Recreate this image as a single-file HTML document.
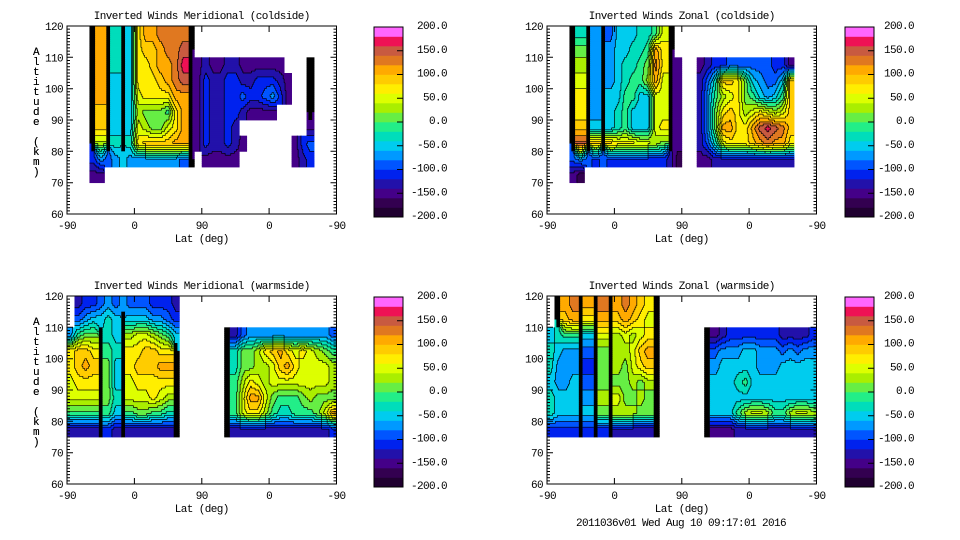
<!DOCTYPE html>
<html><head><meta charset="utf-8"><style>
html,body{margin:0;padding:0;background:#fff;}
svg{display:block;}
text{font-family:"Liberation Mono",monospace;font-size:11px;letter-spacing:-0.6px;fill:#000;}
</style></head><body>
<svg id="fig" width="960" height="540" viewBox="0 0 960 540" xmlns="http://www.w3.org/2000/svg">
<rect x="0" y="0" width="960" height="540" fill="#fff"/>
<text x="681" y="526" text-anchor="middle">2011036v01 Wed Aug 10 09:17:01 2016</text>
</svg>
<script>
// Colour levels, -200..200 in steps of 20
const levelColors = ["#200030","#330050","#440088","#2211aa","#0022ee","#0055ff","#0099ff","#00ccee","#00ddbb","#22ee88","#66ee44","#aaee00","#ddff00","#ffee00","#ffcc00","#ffaa00","#e07820","#c85a40","#ee1155","#ff44bb"];
const barTopColor = "#ff66ff";
const barLabels = ["200.0","150.0","100.0","50.0","0.0","-50.0","-100.0","-150.0","-200.0"];
const xTickLabels = ["-90","0","90","0","-90"];
const yTickLabels = [120,110,100,90,80,70,60];
// Grid rows: 5 km bands from 120 km down; 36 columns of 10 deg along axis.
// letter a..t = level index (value = -190 + 20*k), '#' = dense contour (black), '.' = no data
const merCold = [
"...#p#i#hnppqqqq#",
"...#p#i#hnoopqqr#",
"...#p#i#hnnoppqs#cdccddcccccc...#",
"...#p#h#hnnnopqr#ceddeeddeeedc..#",
"...#p#h#hmnnnnpp#ceddeefeefgec..#",
"...#o#h#hlkkkjnp#ceddeedcccc....#",
"...#o#h#hmlkkmnp#cedded.........c",
"...#l#i#inoooopp#ceddedc......cef",
"...egfghgggggggf#.ccccc.......cde",
"...cc"];
const zonCold = [
"...#i#g#fhhhiijm#",
"...#k#g#ghhiijpn#",
"...#l#g#ghiijkqn#c..cdeeffffffeec",
"...#m#g#ghijjlpm#c..dfioonkhgffho",
"...#n#g#hhjjhhmm#c..dgjlmnkjhghjo",
"...#n#g#hijhhhmm#c..dgknonlmnmlmo",
"...#o#h#hijhhhmn#c..dgkppnnprsrqo",
"...#r#o#onnnmmlk#c..dfimnnnopqppn",
"...fgfefeeeeeeeedb..ccddddddddddd",
"...cb"];
const merWarm = [
".deefgfgfffeeed",
".fghhih#hhhggfe",
"gjkk#ih#lmmlkjh......#dfgggggggggggf",
"noon#ji#nnoonn#......#ikklnopnmnmlkj",
"nopo#kh#nooopp#......#ikkllmopnmmmml",
"mnnn#kh#mnnnnn#......#jlnmlmmmmmmmml",
"mmmm#ki#mmmnml#......#jmppmkjjjklkkk",
"jjjj#jh#jkkjji#......#jmnnljiijjjkmp",
"dddd#ed#dddddd#......#ddddddddddddde"];
const zonWarm = [
".#pq#p#q#pqpon#",
".#op#n#p#oponm#",
"hijj#h#m#lmlmn#......#cdeeeeeeedddde",
"ihgg#f#k#llmop#......#fggghhgggfgfgg",
"iggg#e#k#lkmno#......#ghhhhhggghhhhh",
"hggh#f#k#kklkl#......#hhhijhhhhhhhhh",
"ihhh#g#l#mkklk#......#hhhhhhhhhhhhhh",
"ihhh#h#k#lllkk#......#hhhjlmmljjlmml",
"eeee#e#e#ddddd#......#cccddddddddddd"];

const NS="http://www.w3.org/2000/svg";
const svg=document.getElementById('fig');
function mk(tag,attrs,parent){const e=document.createElementNS(NS,tag);for(const k in attrs)e.setAttribute(k,attrs[k]);(parent||svg).appendChild(e);return e;}

const panels=[
 {name:"meridional-coldside",title:"Inverted Winds Meridional (coldside)",data:merCold,x:67,y:26,bx:374,by:27,lx:447},
 {name:"zonal-coldside",title:"Inverted Winds Zonal (coldside)",data:zonCold,x:547,y:26,bx:845,by:27,lx:914},
 {name:"meridional-warmside",title:"Inverted Winds Meridional (warmside)",data:merWarm,x:67,y:296,bx:374,by:297,lx:447},
 {name:"zonal-warmside",title:"Inverted Winds Zonal (warmside)",data:zonWarm,x:547,y:296,bx:845,by:297,lx:914}
];
const PW=269.5, PH=188, NC=36, NR=12, S=8;

function levelOf(v){return Math.max(0,Math.min(19,Math.floor((v+200)/20)));}

panels.forEach(p=>{
  const g=mk('g',{});
  
  
  const xPos=u=>p.x+u/360*PW;
  const yPos=a=>p.y+(120-a)/60*PH;
  const cell=(i,j)=>{const r=p.data[j]||"";const c=r[i]||'.';return c;};
  const val=c=>-190+20*(c.charCodeAt(0)-97);
  const isNum=c=>c!=='.'&&c!=='#';
  const W=NC*S,H=NR*S;
  const lv=[];
  for(let sj=0;sj<H;sj++){lv.push([]);for(let si=0;si<W;si++){
    const gx=(si+0.5)/S, gy=(sj+0.5)/S;
    const ci=Math.floor(gx), cj=Math.floor(gy);
    const c=cell(ci,cj);
    let L=-1;
    const m=si%S;
    if(c==='.'){L=-1;}
    else if(c==='#'&&m>=2&&m<=5){L=-2;}
    else{
      const i0=Math.floor(gx-0.5), j0=Math.floor(gy-0.5);
      const fx=gx-0.5-i0, fy=gy-0.5-j0;
      let sw=0,sv=0;
      [[0,0,(1-fx)*(1-fy)],[1,0,fx*(1-fy)],[0,1,(1-fx)*fy],[1,1,fx*fy]].forEach(([dx,dy,w])=>{
        const cc=cell(i0+dx,j0+dy); if(isNum(cc)&&w>0){sw+=w;sv+=w*val(cc);}
      });
      if(sw>0)L=levelOf(sv/sw); else L=(c==='#')?-2:-1;
    }
    lv[sj].push(L);
  }}
  const sw=360/W, sh=60/H;
  for(let sj=0;sj<H;sj++){
    let si=0;
    while(si<W){
      const L=lv[sj][si];let e=si;while(e+1<W&&lv[sj][e+1]===L)e++;
      if(L!==-1){
        const x0=xPos(si*sw), x1=xPos((e+1)*sw), y0=yPos(120-sj*sh), y1=yPos(120-(sj+1)*sh);
        const r=mk('rect',{x:x0.toFixed(2),y:y0.toFixed(2),width:(x1-x0+0.4).toFixed(2),height:(y1-y0+0.4).toFixed(2),fill:L===-2?"#000":levelColors[L]},g);
        
        
      }
      si=e+1;
    }
  }
  let d="";
  for(let sj=0;sj<H;sj++)for(let si=0;si<W;si++){
    const L=lv[sj][si]; if(L<0)continue;
    if(si+1<W){const R=lv[sj][si+1]; if(R>=0&&R!==L){const x=xPos((si+1)*sw);d+=`M${x.toFixed(2)} ${yPos(120-sj*sh).toFixed(2)}V${yPos(120-(sj+1)*sh).toFixed(2)}`;}}
    if(sj+1<H){const B=lv[sj+1][si]; if(B>=0&&B!==L){const y=yPos(120-(sj+1)*sh);d+=`M${xPos(si*sw).toFixed(2)} ${y.toFixed(2)}H${xPos((si+1)*sw).toFixed(2)}`;}}
  }
  const cl=mk('path',{d:d,stroke:"#000","stroke-width":"0.7",fill:"none"},g);
  
  
  const fr=mk('rect',{x:p.x,y:p.y,width:PW,height:PH,fill:"none",stroke:"#000","stroke-width":"1"},g);
  
  
  let td="";
  for(let a=60;a<=120;a+=1){const y=yPos(a);const len=(a%10===0)?6:3;td+=`M${p.x} ${y.toFixed(1)}h${len}M${p.x+PW} ${y.toFixed(1)}h${-len}`;}
  xTickLabels.forEach((t,k)=>{const x=xPos(k*90);td+=`M${x.toFixed(1)} ${p.y+PH}v-6M${x.toFixed(1)} ${p.y}v6`;});
  const tk=mk('path',{d:td,stroke:"#000","stroke-width":"1",fill:"none"},g);
  
  
  yTickLabels.forEach(a=>{
    const t=mk('text',{x:p.x-4,y:(yPos(a)+4).toFixed(1),'text-anchor':'end'},g);t.textContent=String(a);
    
    
  });
  xTickLabels.forEach((lab,k)=>{
    const t=mk('text',{x:xPos(k*90).toFixed(1),y:p.y+PH+15,'text-anchor':'middle'},g);t.textContent=lab;
    
    
  });
  const xt=mk('text',{x:xPos(180),y:p.y+PH+28,'text-anchor':'middle'},g);xt.textContent="Lat (deg)";
  
  
  const tt=mk('text',{x:xPos(180),y:p.y-7,'text-anchor':'middle'},g);tt.textContent=p.title;
  
  
  const yt=mk('text',{x:36,y:p.y+29,'text-anchor':'middle'},g);
  
  
  "Altitude (km)".split("").forEach((ch,k)=>{const s=mk('tspan',{x:36,y:p.y+29+k*10},yt);s.textContent=ch;});
  const BW=29,BH=190,nb=20;
  const cb=mk('g',{},g);
  
  
  for(let k=0;k<nb;k++){
    const y0=p.by+BH-(k+1)*BH/nb;
    const r=mk('rect',{x:p.bx,y:y0.toFixed(2),width:BW,height:(BH/nb+0.3).toFixed(2),fill:k===nb-1?barTopColor:levelColors[k]},cb);
    
    
  }
  const cbf=mk('rect',{x:p.bx,y:p.by,width:BW,height:BH,fill:"none",stroke:"#000","stroke-width":"1"},cb);
  
  
  let cd="";
  barLabels.forEach((lab,k)=>{
    const y=p.by+k*BH/(barLabels.length-1);
    if(k>0&&k<barLabels.length-1)cd+=`M${p.bx+BW} ${y.toFixed(1)}h-6`;
    const t=mk('text',{x:p.lx,y:(y+2).toFixed(1),'text-anchor':'end'},cb);t.textContent=lab;
    
    
  });
  const ct=mk('path',{d:cd,stroke:"#000","stroke-width":"1"},cb);
  
  
});
</script>
</body></html>
